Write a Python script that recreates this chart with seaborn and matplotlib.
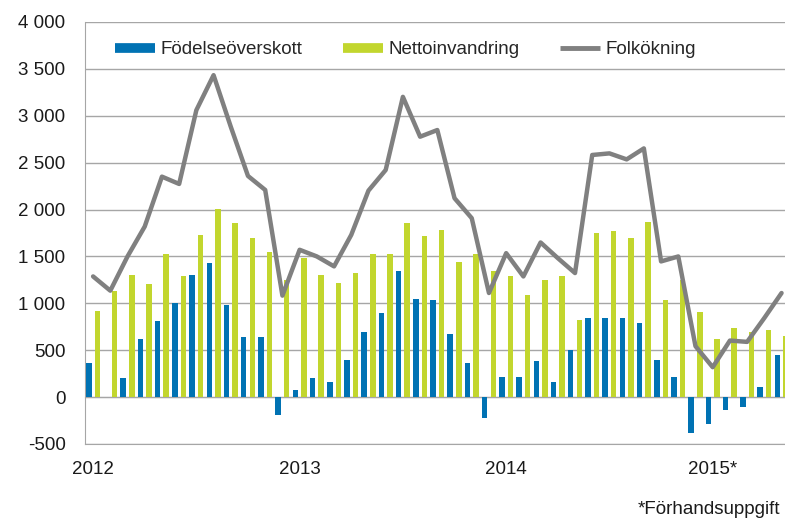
import numpy as np
import pandas as pd
import matplotlib.pyplot as plt
from matplotlib.lines import Line2D
import seaborn as sns

# Månadsdata jan 2012 - maj 2015
fodelseoverskott = [365, 0, 199, 620, 815, 1003, 1305, 1429, 986, 638, 638, -195,
                    74, 199, 163, 400, 695, 897, 1340, 1050, 1032, 674, 365, -227,
                    213, 213, 390, 163, 507, 844, 844, 844, 791, 400, 213, -379,
                    -291, -138, -103, 110, 447]
nettoinvandring = [915, 1135, 1305, 1205, 1528, 1290, 1730, 2003, 1855, 1702, 1546, 1252,
                   1482, 1305, 1216, 1323, 1528, 1528, 1855, 1713, 1784, 1440, 1528, 1340,
                   1287, 1085, 1252, 1287, 826, 1748, 1766, 1695, 1865, 1032, 1252, 908,
                   621, 738, 691, 720, 649]
folkokning = [1287, 1135, 1500, 1819, 2351, 2273, 3060, 3433, 2883, 2358, 2209, 1082,
              1571, 1500, 1394, 1730, 2202, 2422, 3202, 2777, 2848, 2121, 1908, 1110,
              1535, 1287, 1649, 1482, 1323, 2582, 2599, 2535, 2652, 1447, 1500, 543,
              319, 603, 589, 844, 1110]
ar_etiketter = ['2012', '2013', '2014', '2015*']
ar_position = [0, 12, 24, 36]

manad = list(range(len(folkokning)))
bars = pd.DataFrame({
    'Manad': manad * 2,
    'Komponent': ['Födelseöverskott'] * len(manad) + ['Nettoinvandring'] * len(manad),
    'Varde': fodelseoverskott + nettoinvandring,
})

bla = '#0072B3'
gron = '#C2D62E'
gra = '#808080'
linjefarg = '#A6A6A6'

sns.set_style('white')
plt.rcParams['font.family'] = ['Liberation Sans', 'DejaVu Sans']
plt.rcParams['font.size'] = 13.5

fig = plt.figure(figsize=(7.85, 5.2), dpi=100)
ax = fig.add_axes([85 / 785, 76 / 520, 700 / 785, 422 / 520])

sns.barplot(data=bars, x='Manad', y='Varde', hue='Komponent',
            palette=[bla, gron], width=1.0, gap=0.36, errorbar=None,
            linewidth=0, saturation=1, legend=False, ax=ax, zorder=3)
sns.lineplot(x=manad, y=folkokning, color=gra, linewidth=3.2, ax=ax,
             legend=False, zorder=4)

ax.set_ylim(-500, 4000)
ax.set_xlim(-0.47, 40.2)
ax.set_yticks(np.arange(-500, 4001, 500))
ax.set_yticklabels([f'{v:,}'.replace(',', ' ') for v in range(-500, 4001, 500)])
ax.yaxis.grid(True, color=linjefarg, linewidth=1)
ax.set_axisbelow(True)
ax.set_xlabel('')
ax.set_ylabel('')

for s in ['top', 'right']:
    ax.spines[s].set_visible(False)
ax.spines['left'].set_color(linjefarg)
ax.spines['bottom'].set_position(('data', 0))
ax.spines['bottom'].set_color(linjefarg)
ax.spines['bottom'].set_zorder(2)

ax.set_xticks(np.arange(0, 40.5, 0.5))
ax.set_xticklabels([])
ax.tick_params(axis='x', length=4, width=1, color=linjefarg, direction='out')
ax.tick_params(axis='y', length=6, width=1, color=linjefarg, pad=8,
               labelcolor='#1a1a1a')

sec = ax.secondary_xaxis('bottom')
sec.set_xticks(ar_position, labels=ar_etiketter)
sec.tick_params(length=0, pad=12, labelcolor='#1a1a1a')
sec.spines['bottom'].set_color(linjefarg)

handles = [Line2D([], [], color=bla, linewidth=7, solid_capstyle='butt'),
           Line2D([], [], color=gron, linewidth=7, solid_capstyle='butt'),
           Line2D([], [], color=gra, linewidth=3.5, solid_capstyle='butt')]
ax.legend(handles, ['Födelseöverskott', 'Nettoinvandring', 'Folkökning'],
          loc='center left', bbox_to_anchor=(0.043, 0.934), ncol=3,
          frameon=False, borderpad=0, borderaxespad=0, handlelength=2.13,
          handletextpad=0.3, columnspacing=2.15)

fig.text(0.9936, 10 / 520, '*Förhandsuppgift', ha='right', va='center',
         color='#1a1a1a')

plt.savefig('out.png', dpi=100)
